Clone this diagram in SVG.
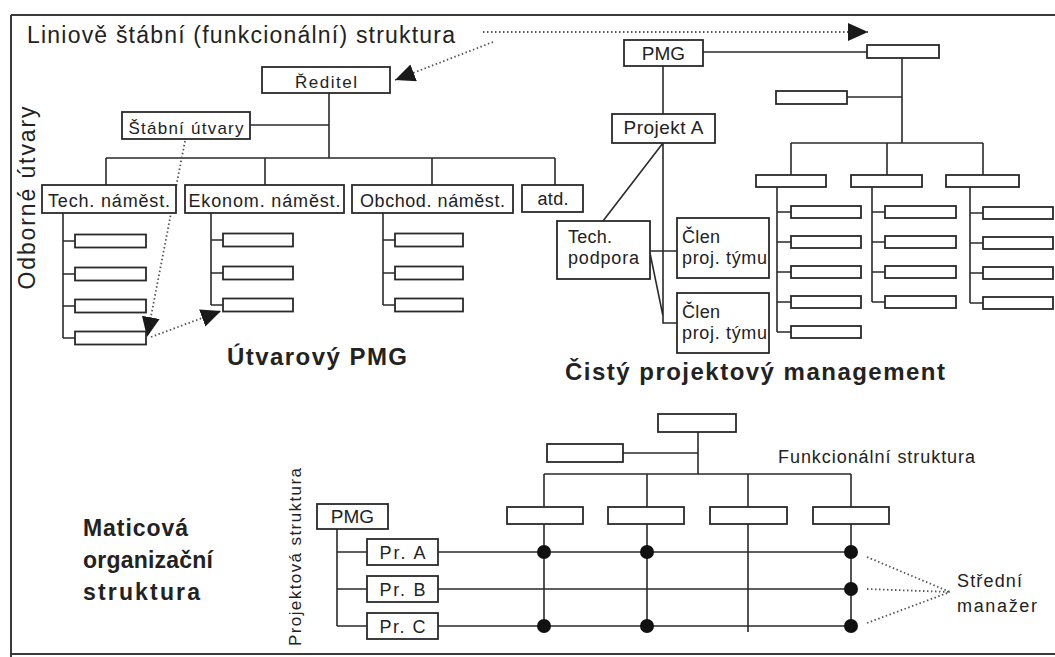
<svg xmlns="http://www.w3.org/2000/svg" width="1055" height="657" viewBox="0 0 1055 657">
<defs>
<style>
.b{fill:#fff;stroke:#2a2a2a;stroke-width:1.8}
.l{fill:none;stroke:#2a2a2a;stroke-width:1.6}
.d{fill:none;stroke:#555;stroke-width:1.8;stroke-dasharray:1.5 2.5}
.fr{fill:none;stroke:#3a3a3a;stroke-width:2}
text{font-family:"Liberation Sans",Arial,sans-serif;fill:#222}
.t{font-size:17px}
.t17{font-size:18px}
.h{font-size:24px;font-weight:bold}
.hm{font-size:23px;font-weight:bold}
.c{text-anchor:middle}
.dot{fill:#111}
</style>
<marker id="ah" markerUnits="userSpaceOnUse" markerWidth="22" markerHeight="20" refX="20" refY="9" orient="auto">
<path d="M0,0 L20,9 L0,18 z" fill="#1a1a1a"/>
</marker>
</defs>
<rect width="1055" height="657" fill="#fff"/>
<g id="frame">
<line class="fr" x1="11" y1="15" x2="1055" y2="15"/>
<line class="fr" x1="11" y1="15" x2="11" y2="657"/>
<line class="fr" x1="11" y1="654" x2="1055" y2="654"/>
</g>
<g id="labels">
<text x="27" y="43" style="font-size:23px" textLength="428" lengthAdjust="spacing">Liniově štábní (funkcionální) struktura</text>
<text transform="translate(35,198) rotate(-90)" class="c" style="font-size:23px" textLength="183" lengthAdjust="spacing">Odborné útvary</text>
<text x="227" y="365" class="h" textLength="180" lengthAdjust="spacing">Útvarový PMG</text>
<text x="565" y="380" class="h" textLength="380" lengthAdjust="spacing">Čistý projektový management</text>
<text x="83" y="536" class="hm" textLength="105" lengthAdjust="spacing">Maticová</text>
<text x="83" y="568" class="hm" textLength="130" lengthAdjust="spacing">organizační</text>
<text x="83" y="600" class="hm" textLength="117" lengthAdjust="spacing">struktura</text>
<text transform="translate(301,557) rotate(-90)" class="c t" textLength="178" lengthAdjust="spacing">Projektová struktura</text>
<text x="778" y="463" class="t17" textLength="197" lengthAdjust="spacing">Funkcionální struktura</text>
<text x="957" y="587" class="t17" textLength="65" lengthAdjust="spacing">Střední</text>
<text x="957" y="612" class="t17" textLength="80" lengthAdjust="spacing">manažer</text>
</g>
<g id="connectors">
<path class="l" d="M329,93 V158 M250,125 H329 M106,158 H555 M106,158 V185 M265,158 V185 M432,158 V185 M555,158 V185"/>
<path class="l" d="M63,213 V338 M63,241 H75 M63,274 H75 M63,306 H75 M63,338 H75"/>
<path class="l" d="M211,213 V305 M211,240 H223 M211,273 H223 M211,305 H223"/>
<path class="l" d="M383,213 V305 M383,240 H395 M383,273 H395 M383,305 H395"/>
<path class="l" d="M703,52 H867 M902,58 V143 M847,97 H902 M791,143 H983 M791,143 V175 M887,143 V175 M983,143 V175"/>
<path class="l" d="M777,187 V332 M777,212 H791 M777,242 H791 M777,272 H791 M777,302 H791 M777,332 H791"/>
<path class="l" d="M872,187 V302 M872,212 H885 M872,242 H885 M872,272 H885 M872,302 H885"/>
<path class="l" d="M970,187 V303 M970,213 H983 M970,243 H983 M970,273 H983 M970,303 H983"/>
<path class="l" d="M663,66 V114 M663,143 V323 H677 M663,143 L603,221 M650,251 H677 M650,253 L663,316"/>
<path class="l" d="M698,432 V474 M623,453 H698 M544,474 H851 M544,474 V507 M647,474 V507 M748,474 V507 M851,474 V507"/>
<path class="l" d="M544,524 V630 M647,524 V630 M748,524 V632 M851,524 V630"/>
<path class="l" d="M337,529 V626 M337,552 H367 M337,589 H367 M337,626 H367 M438,552 H851 M438,589 H851 M438,626 H851"/>
<line class="d" x1="483" y1="32" x2="868" y2="32" marker-end="url(#ah)"/>
<line class="d" x1="493" y1="42" x2="395" y2="80" marker-end="url(#ah)"/>
<line class="d" x1="185" y1="141" x2="147" y2="337" marker-end="url(#ah)"/>
<line class="d" x1="151" y1="337" x2="221" y2="311" marker-end="url(#ah)"/>
<path class="d" d="M867,557 L950,592 M867,589 L950,592 M867,623 L950,592"/>
</g>
<g id="reditel"><rect class="b" x="262" y="67" width="128" height="26"/><text x="326" y="88" class="c t" textLength="62" lengthAdjust="spacing">Ředitel</text></g>
<g id="stabni"><rect class="b" x="122" y="112" width="128" height="27"/><text x="186" y="134" class="c t" textLength="115" lengthAdjust="spacing">Štábní útvary</text></g>
<g id="tech"><rect class="b" x="42" y="185" width="134" height="28"/><text x="109" y="207" class="c t17" textLength="122" lengthAdjust="spacing">Tech. náměst.</text></g>
<g id="ekonom"><rect class="b" x="185" y="185" width="159" height="28"/><text x="264.5" y="207" class="c t17" textLength="152" lengthAdjust="spacing">Ekonom. náměst.</text></g>
<g id="obchod"><rect class="b" x="352" y="185" width="161" height="28"/><text x="432.5" y="207" class="c t17" textLength="145" lengthAdjust="spacing">Obchod. náměst.</text></g>
<g id="atd"><rect class="b" x="522" y="185" width="61" height="27"/><text x="553" y="205" class="c t17" textLength="31" lengthAdjust="spacing">atd.</text></g>
<g id="tech-sub">
<rect class="b" x="75" y="234.5" width="71" height="13"/><rect class="b" x="75" y="267.5" width="71" height="13"/><rect class="b" x="75" y="299.5" width="71" height="13"/><rect class="b" x="75" y="331.5" width="71" height="13"/>
</g>
<g id="ekonom-sub">
<rect class="b" x="223" y="233.5" width="70" height="13"/><rect class="b" x="223" y="266.5" width="70" height="13"/><rect class="b" x="223" y="298.5" width="70" height="13"/>
</g>
<g id="obchod-sub">
<rect class="b" x="395" y="233.5" width="68" height="13"/><rect class="b" x="395" y="266.5" width="68" height="13"/><rect class="b" x="395" y="298.5" width="68" height="13"/>
</g>
<g id="pmg1"><rect class="b" x="624" y="40" width="79" height="26"/><text x="663.5" y="60" class="c" style="font-size:19px">PMG</text></g>
<g id="projektA"><rect class="b" x="612" y="114" width="103" height="29"/><text x="663.5" y="134" class="c" style="font-size:19px" textLength="80" lengthAdjust="spacing">Projekt A</text></g>
<g id="techpodpora"><rect class="b" x="557" y="221" width="93" height="58"/><text x="568" y="243" class="t17" textLength="44" lengthAdjust="spacing">Tech.</text><text x="568" y="264" class="t17" textLength="71" lengthAdjust="spacing">podpora</text></g>
<g id="clen1"><rect class="b" x="677" y="218" width="92" height="60"/><text x="682" y="243" class="t17" textLength="38" lengthAdjust="spacing">Člen</text><text x="682" y="264" class="t17" textLength="85" lengthAdjust="spacing">proj. týmu</text></g>
<g id="clen2"><rect class="b" x="677" y="293" width="92" height="60"/><text x="682" y="318" class="t17" textLength="38" lengthAdjust="spacing">Člen</text><text x="682" y="339" class="t17" textLength="85" lengthAdjust="spacing">proj. týmu</text></g>
<g id="func-top"><rect class="b" x="867" y="45" width="72" height="13"/><rect class="b" x="776" y="91" width="71" height="13"/></g>
<g id="func-row"><rect class="b" x="756" y="175" width="70" height="12"/><rect class="b" x="851" y="175" width="71" height="12"/><rect class="b" x="946" y="175" width="73" height="12"/></g>
<g id="func-col1"><rect class="b" x="791" y="206" width="70" height="12"/><rect class="b" x="791" y="236" width="70" height="12"/><rect class="b" x="791" y="266" width="70" height="12"/><rect class="b" x="791" y="296" width="70" height="12"/><rect class="b" x="791" y="326" width="70" height="12"/></g>
<g id="func-col2"><rect class="b" x="885" y="206" width="71" height="12"/><rect class="b" x="885" y="236" width="71" height="12"/><rect class="b" x="885" y="266" width="71" height="12"/><rect class="b" x="885" y="296" width="71" height="12"/></g>
<g id="func-col3"><rect class="b" x="983" y="207" width="70" height="12"/><rect class="b" x="983" y="237" width="70" height="12"/><rect class="b" x="983" y="267" width="70" height="12"/><rect class="b" x="983" y="297" width="70" height="12"/></g>
<g id="matrix-func"><rect class="b" x="658" y="414" width="78" height="18"/><rect class="b" x="547" y="444" width="76" height="18"/><rect class="b" x="507" y="507" width="76" height="17"/><rect class="b" x="608" y="507" width="76" height="17"/><rect class="b" x="710" y="507" width="77" height="17"/><rect class="b" x="813" y="507" width="76" height="17"/></g>
<g id="pmg2"><rect class="b" x="317" y="504" width="71" height="25"/><text x="352.5" y="523" class="c" style="font-size:19px">PMG</text></g>
<g id="prA"><rect class="b" x="367" y="539" width="71" height="26"/><text x="402.5" y="559" class="c t17" textLength="46" lengthAdjust="spacing">Pr. A</text></g>
<g id="prB"><rect class="b" x="367" y="576" width="71" height="26"/><text x="402.5" y="596" class="c t17" textLength="46" lengthAdjust="spacing">Pr. B</text></g>
<g id="prC"><rect class="b" x="367" y="613" width="71" height="26"/><text x="402.5" y="633" class="c t17" textLength="46" lengthAdjust="spacing">Pr. C</text></g>
<g id="managers">
<circle class="dot" cx="544" cy="552" r="7"/><circle class="dot" cx="647" cy="552" r="7"/><circle class="dot" cx="851" cy="552" r="7"/>
<circle class="dot" cx="851" cy="589" r="7"/>
<circle class="dot" cx="544" cy="626" r="7"/><circle class="dot" cx="647" cy="626" r="7"/><circle class="dot" cx="851" cy="626" r="7"/>
</g>
</svg>
